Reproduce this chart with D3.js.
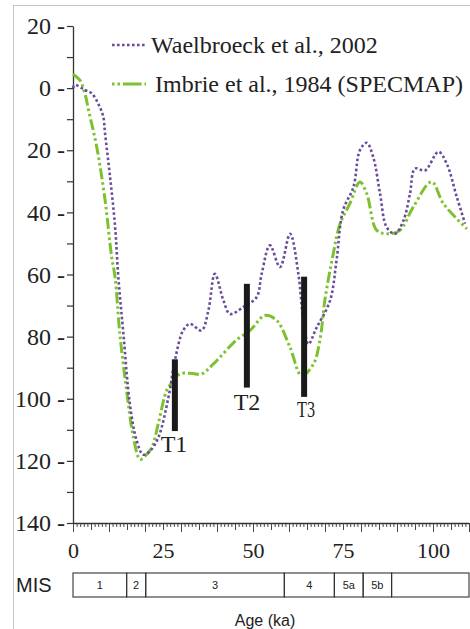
<!DOCTYPE html>
<html>
<head>
<meta charset="utf-8">
<script src="https://cdn.jsdelivr.net/npm/d3@7"></script>
<style>
  body { margin: 0; background: #fff; }
  .serif { font-family: "Liberation Serif", "Times New Roman", serif; fill: #222; }
  .sans { font-family: "Liberation Sans", Arial, sans-serif; fill: #222; }
</style>
</head>
<body>
<div id="chart"></div>
<script>
// Waelbroeck et al., 2002 (purple dotted)
var waelAge = [0, 0.5, 3.3, 5.2, 7, 8.4, 8.9, 10.3, 11.7, 12.6, 14, 15.8, 17.7, 19.5, 21.4, 23.7, 26.5, 28.3, 30.6, 32.5, 35.7, 37.6, 39.4, 41.8, 43.6, 47.3, 51, 52.4, 54.7, 57.5, 60.3, 62.6, 64, 65.4, 67.5, 71.4, 73.2, 75, 77.9, 79.7, 81.6, 83.4, 85.3, 87.1, 89.4, 91.8, 93.6, 95, 97.8, 101.5, 103.8, 106.6, 108.9];
var waelSL = [0, -1, 0.6, 1.7, 5, 9.2, 14.6, 28.6, 44.7, 61, 79, 101.7, 113.5, 118, 116.8, 112.5, 99.6, 87.7, 78, 75.9, 78, 71.6, 59.8, 68.4, 72.7, 70.5, 67.3, 59.8, 50.6, 57.6, 46.9, 59.8, 74.8, 82.4, 77.5, 68.4, 55.5, 39.4, 31.8, 20, 17.6, 22.2, 34, 44.7, 46.9, 42.6, 34, 25.9, 26.5, 20.5, 24.3, 35, 43.6];

// Imbrie et al., 1984 SPECMAP (green dash-dot-dot)
var imbAge = [0, 1.9, 3.3, 4.3, 6.6, 8.9, 10.7, 11.7, 13, 14.9, 16.8, 18.6, 20, 21.9, 23.7, 26, 27.4, 29.7, 32.5, 35.7, 39, 45.5, 49.2, 53.3, 56.6, 60.3, 63.5, 66.8, 68.6, 70, 72.3, 74.2, 76.9, 79.7, 81.6, 84.4, 87.6, 90.8, 94.5, 99.6, 102.9, 109.4];
var imbSL = [-4.5, -2.6, 1.7, 7, 19, 36, 54, 61, 79, 97.4, 112.5, 119.5, 118.5, 115.7, 108, 97.4, 95, 92, 91.8, 92, 88.8, 81, 78, 73.2, 74.8, 83.5, 92.6, 88.8, 81, 68, 53.3, 43.6, 37.2, 30.2, 34, 45.8, 46.9, 45.8, 38.3, 30.2, 37.2, 45.3];

// termination bars
var termNames = ["T1", "T2", "T3"];
var termAge = [28.3, 48.3, 64.2];
var termTop = [87.3, 63, 60.7];
var termBottom = [110.4, 96.4, 99.4];

// marine isotope stages
var misNames = ["1", "2", "3", "4", "5a", "5b", ""];
var misStart = [0, 14.9, 20.2, 58.7, 72.6, 80.6, 88.5];
var misEnd = [14.9, 20.2, 58.7, 72.6, 80.6, 88.5, 110];

var xTicks = [0, 25, 50, 75, 100];
var yTicks = [-20, 0, 20, 40, 60, 80, 100, 120, 140];

var svgWidth = 470;
var svgHeight = 629;

var svg = d3.select("#chart")
  .append("svg")
  .attr("width", svgWidth)
  .attr("height", svgHeight);

// grey frame
svg.append("rect")
  .attr("x", 13.5)
  .attr("y", 5.5)
  .attr("width", 520)
  .attr("height", 700)
  .attr("fill", "none")
  .attr("stroke", "#c4c4c4");

var x = d3.scaleLinear().domain([0, 110]).range([73, 469]);
var y = d3.scaleLinear().domain([-20, 140]).range([26, 523]);

// Y axis
var yAxis = svg.append("g")
  .attr("transform", "translate(73,0)")
  .call(d3.axisLeft(y).tickValues(d3.range(-20, 141, 10)).tickSize(6).tickSizeOuter(0).tickPadding(2)
    .tickFormat(d => yTicks.indexOf(d) >= 0 ? Math.abs(d) + " -" : ""));
yAxis.select(".domain").attr("stroke", "#333").attr("stroke-width", 1.3);
yAxis.selectAll("line").attr("stroke", "#333").attr("stroke-width", 1.2);
yAxis.selectAll("text").attr("class", "serif").style("font-size", "24px");

// X axis
var xAxis = svg.append("g")
  .attr("transform", "translate(0,523)")
  .call(d3.axisBottom(x).tickValues(d3.range(0, 111, 1)).tickSizeOuter(0)
    .tickFormat(d => xTicks.indexOf(d) >= 0 ? d : ""));
xAxis.select(".domain").attr("stroke", "#333").attr("stroke-width", 1.3);
xAxis.selectAll("line")
  .attr("stroke", "#333")
  .attr("stroke-width", 0.9)
  .attr("y2", d => d % 10 === 0 ? 9 : (d % 5 === 0 ? 7 : 4));
xAxis.selectAll("text")
  .attr("class", "serif")
  .attr("y", 19)
  .style("font-size", "22px");

// lines
var line = d3.line()
  .x(d => x(d[0]))
  .y(d => y(d[1]))
  .curve(d3.curveCatmullRom);

svg.append("path")
  .datum(d3.zip(imbAge, imbSL))
  .attr("d", line)
  .attr("fill", "none")
  .attr("stroke", "#7dc22e")
  .attr("stroke-width", 3)
  .attr("stroke-dasharray", "11,3,2.5,3,2.5,3");

svg.append("path")
  .datum(d3.zip(waelAge, waelSL))
  .attr("d", line)
  .attr("fill", "none")
  .attr("stroke", "#6a4c9c")
  .attr("stroke-width", 2.6)
  .attr("stroke-dasharray", "2.6,2.4");

// termination bars + labels
termNames.forEach(function(name, i) {
  svg.append("line")
    .attr("x1", x(termAge[i]))
    .attr("x2", x(termAge[i]))
    .attr("y1", y(termTop[i]))
    .attr("y2", y(termBottom[i]))
    .attr("stroke", "#1a1a1a")
    .attr("stroke-width", 6);
});

svg.append("text").attr("class", "serif").attr("x", 174).attr("y", 452)
  .attr("text-anchor", "middle").style("font-size", "24px").text(termNames[0]);
svg.append("text").attr("class", "serif").attr("x", 247).attr("y", 410)
  .attr("text-anchor", "middle").style("font-size", "24px").text(termNames[1]);
svg.append("text").attr("class", "serif").attr("x", 297).attr("y", 417)
  .attr("textLength", 18).attr("lengthAdjust", "spacingAndGlyphs")
  .style("font-size", "24px").text(termNames[2]);

// legend
svg.append("line")
  .attr("x1", 112).attr("x2", 146).attr("y1", 45).attr("y2", 45)
  .attr("stroke", "#6a4c9c").attr("stroke-width", 2.6).attr("stroke-dasharray", "2.6,2.4");
svg.append("text").attr("class", "serif").attr("x", 151).attr("y", 53)
  .style("font-size", "24px").text("Waelbroeck et al., 2002");

svg.append("line")
  .attr("x1", 112).attr("x2", 146).attr("y1", 84).attr("y2", 84)
  .attr("stroke", "#7dc22e").attr("stroke-width", 3).attr("stroke-dasharray", "2.5,3,2.5,3,16,0");
svg.append("text").attr("class", "serif").attr("x", 155).attr("y", 92)
  .style("font-size", "24px").text("Imbrie et al., 1984 (SPECMAP)");

// MIS bar
var mis = svg.append("g");
mis.selectAll("rect")
  .data(misNames)
  .enter()
  .append("rect")
  .attr("x", (d, i) => x(misStart[i]))
  .attr("y", 573)
  .attr("width", (d, i) => x(misEnd[i]) - x(misStart[i]))
  .attr("height", 24)
  .attr("fill", "none")
  .attr("stroke", "#333")
  .attr("stroke-width", 1.1);
mis.selectAll("text")
  .data(misNames)
  .enter()
  .append("text")
  .attr("class", "sans")
  .attr("x", (d, i) => x((misStart[i] + misEnd[i]) / 2))
  .attr("y", 589)
  .attr("text-anchor", "middle")
  .style("font-size", "11px")
  .text(d => d);

svg.append("text").attr("class", "sans").attr("x", 16).attr("y", 592)
  .style("font-size", "20px").text("MIS");

svg.append("text").attr("class", "sans").attr("x", 265).attr("y", 626)
  .attr("text-anchor", "middle").style("font-size", "16px").text("Age (ka)");
</script>
</body>
</html>
